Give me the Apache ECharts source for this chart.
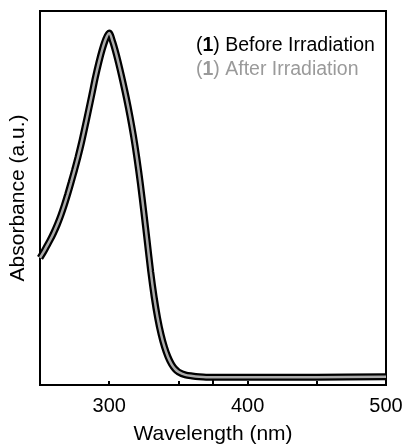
<!DOCTYPE html>
<html>
<head>
<meta charset="utf-8">
<script src="https://cdn.jsdelivr.net/npm/echarts@6/dist/echarts.min.js"></script>
<style>html,body{margin:0;padding:0;background:#fff}#c{width:404px;height:445px}</style>
</head>
<body>
<div id="c"></div>
<script>
const wavelength = [250,252.5,255,257.5,260,262.5,265,267.5,270,272.5,275,277.5,280,282.5,285,287.5,290,292.5,295,297.5,300,302.5,305,307.5,310,312.5,315,317.5,320,322.5,325,327.5,330,332.5,335,337.5,340,342.5,345,347.5,350,355,360,365,370,380,400,450,500];
const beforeIrr = [0.340,0.355,0.372,0.389,0.408,0.429,0.453,0.480,0.510,0.542,0.575,0.610,0.648,0.690,0.733,0.777,0.822,0.862,0.897,0.925,0.941,0.918,0.886,0.849,0.809,0.766,0.719,0.667,0.607,0.539,0.463,0.383,0.303,0.235,0.179,0.135,0.101,0.075,0.056,0.043,0.035,0.027,0.024,0.022,0.021,0.021,0.021,0.021,0.022];
const afterIrr  = [0.340,0.355,0.372,0.389,0.408,0.429,0.453,0.480,0.510,0.542,0.575,0.610,0.648,0.690,0.733,0.777,0.822,0.862,0.897,0.925,0.941,0.918,0.886,0.849,0.809,0.766,0.719,0.667,0.607,0.539,0.463,0.383,0.303,0.235,0.179,0.135,0.101,0.075,0.056,0.043,0.035,0.027,0.024,0.022,0.021,0.021,0.021,0.021,0.022];
const xTicks = [300,400,500];
const seriesNames = ['Before Irradiation','After Irradiation'];
const legendColors = ['#000000','#9a9a9a'];

const font = 'Liberation Sans, Arial, sans-serif';
const chart = echarts.init(document.getElementById('c'), null, {renderer:'canvas'});
const pair = (xs, ys) => xs.map((x,i)=>[x,ys[i]]);
const mkLegend = (i, top) => ({
  data:[seriesNames[i]], left:186, top:top,
  icon:'none', itemWidth:0, itemHeight:0, itemGap:0, selectedMode:false,
  formatter: n => '{p|(}{b|1}{p|) ' + n + '}',
  textStyle:{fontFamily:font,fontSize:19.5,color:legendColors[i],
    rich:{p:{fontFamily:font,fontSize:19.5,color:legendColors[i]},
          b:{fontFamily:font,fontSize:19.5,fontWeight:'bold',color:legendColors[i]}}}
});
chart.setOption({
  animation:false,
  grid:{left:40,right:18,top:11,bottom:60,show:true,borderColor:'#000',borderWidth:2,
    backgroundColor:'transparent',outerBoundsMode:'none',containLabel:false},
  legend:[mkLegend(0,31), mkLegend(1,55)],
  xAxis:[{type:'value',min:250,max:500,interval:50,
    name:'Wavelength (nm)',nameLocation:'middle',nameGap:39,
    nameTextStyle:{fontFamily:font,fontSize:21,color:'#000'},
    axisLine:{lineStyle:{color:'#000',width:2}},
    axisTick:{show:false},
    axisLabel:{fontFamily:font,fontSize:20,color:'#000',margin:11,
      formatter:v=>xTicks.includes(v)?String(v):''},
    splitLine:{show:false}
  },
  {type:'value',min:250,max:500,interval:50,position:'bottom',
    axisLine:{show:false},axisLabel:{show:false},splitLine:{show:false},
    axisTick:{inside:true,length:4,lineStyle:{color:'#000',width:2}}},
  {type:'value',min:300,max:500,interval:100,position:'bottom',
    axisLine:{show:false},axisLabel:{show:false},splitLine:{show:false},
    axisTick:{inside:true,length:8,lineStyle:{color:'#000',width:2}}}],
  yAxis:{type:'value',min:0,max:1,
    name:'Absorbance (a.u.)',nameLocation:'middle',nameGap:11,
    nameTextStyle:{fontFamily:font,fontSize:21,color:'#000'},
    axisLine:{show:true,lineStyle:{color:'#000',width:2}},
    axisTick:{show:false},axisLabel:{show:false},splitLine:{show:false}
  },
  series:[
    {name:seriesNames[0],type:'line',data:pair(wavelength,beforeIrr),smooth:0.3,showSymbol:false,
     lineStyle:{color:'#000',width:7},itemStyle:{color:'#000'},z:2},
    {name:seriesNames[1],type:'line',data:pair(wavelength,afterIrr),smooth:0.3,showSymbol:false,
     lineStyle:{color:'#ababab',width:2.5},itemStyle:{color:'#9a9a9a'},z:3}
  ]
});
</script>
</body>
</html>
